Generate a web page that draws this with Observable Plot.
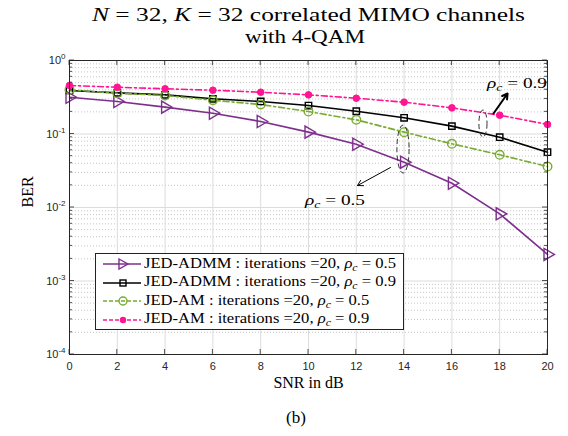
<!DOCTYPE html>
<html><head>
<meta charset="utf-8">
<script src="https://cdn.jsdelivr.net/npm/d3@7"></script>
<script src="https://cdn.jsdelivr.net/npm/@observablehq/plot@0.6"></script>
<style>
body{margin:0;background:#fff;}
#wrap{position:relative;width:568px;height:436px;overflow:hidden;font-family:"Liberation Serif","DejaVu Serif",serif;color:#000;}
.tl{position:absolute;left:0;white-space:nowrap;font-size:19px;line-height:22px;transform-origin:0 50%;}
#chart{position:absolute;left:0;top:56px;}
#cap{position:absolute;left:0;width:592px;top:408px;text-align:center;font-size:17px;}
#legend{position:absolute;left:95px;top:253px;width:307px;height:75px;border:1px solid #222;background:#fff;font-size:14px;}
.row{position:absolute;left:0;height:18px;display:flex;align-items:center;white-space:nowrap;}
.row svg{margin-left:7px;margin-right:3px;flex:none;}
.row span{display:inline-block;transform-origin:0 50%;}
.ann{position:absolute;font-size:14px;white-space:nowrap;}
sub{font-size:10px;font-style:italic;vertical-align:-3px;}
</style>
</head><body>
<div id="wrap">
  <div class="tl" id="t1"><i>N</i> = 32, <i>K</i> = 32 correlated MIMO channels</div>
  <div class="tl" id="t2">with 4-QAM</div>
  <div id="chart"></div>
  <div id="legend"></div>
  <div id="cap">(b)</div>
</div>
<script>
// ---- data ----
const snr = [0, 2, 4, 6, 8, 10, 12, 14, 16, 18, 20];
const admm05 = [0.317, 0.277, 0.232, 0.192, 0.148, 0.106, 0.0727, 0.0414, 0.0214, 0.0082, 0.0023];
const admm09 = [0.391, 0.363, 0.341, 0.301, 0.277, 0.244, 0.204, 0.166, 0.128, 0.0905, 0.0566];
const am05 = [0.399, 0.359, 0.334, 0.288, 0.252, 0.202, 0.156, 0.106, 0.0736, 0.0521, 0.0361];
const am09 = [0.457, 0.433, 0.412, 0.394, 0.370, 0.341, 0.307, 0.271, 0.227, 0.180, 0.135];
const seriesNames = ["JED-ADMM : iterations =20, ", "JED-ADMM : iterations =20, ", "JED-AM : iterations =20, ", "JED-AM : iterations =20, "];
const seriesRho = ["0.5", "0.9", "0.5", "0.9"];
const xTicks = [0, 2, 4, 6, 8, 10, 12, 14, 16, 18, 20];
const yMajor = [1e-4, 1e-3, 1e-2, 1e-1, 1];
const yTickLabels = ["10^-4", "10^-3", "10^-2", "10^-1", "10^0"];
// annotations (data coordinates)
const ellipses = [{x1: 13.72, x2: 14.23, y1: 0.029, y2: 0.1305}, {x1: 17.15, x2: 17.49, y1: 0.0896, y2: 0.209}];
const arrows = [{x1: 13.43, y1: 0.035, x2: 12.05, y2: 0.0199, w: 1}, {x1: 17.74, y1: 0.19, x2: 18.33, y2: 0.356, w: 2}];
const annLabels = [{x: 11.13, y: 0.0117, rho: "0.5"}, {x: 18.75, y: 0.457, rho: "0.9"}];

const colors = ["#7e2f8e", "#000000", "#77ac30", "#ff1493"];
const dashes = [null, null, "6,3,2,3", "6,3,2,3"];

const yMinor = [];
for (let e = -4; e < 0; e++) for (let m = 2; m <= 9; m++) yMinor.push(m * Math.pow(10, e));

const mk = (vals) => snr.map((s, i) => ({x: s, y: vals[i]}));
const D = [mk(admm05), mk(admm09), mk(am05), mk(am09)];

function ticksMark(index, scales, values, dim) {
  const g = d3.create("svg:g").attr("stroke", "#262626").attr("stroke-width", 0.8);
  const L = dim.marginLeft, R = dim.width - dim.marginRight, T = dim.marginTop, B = dim.height - dim.marginBottom;
  const sy = scales.y, sx = scales.x;
  for (const v of yMajor) { const y = sy(v); g.append("line").attr("x1", L).attr("x2", L + 5).attr("y1", y).attr("y2", y); g.append("line").attr("x1", R - 5).attr("x2", R).attr("y1", y).attr("y2", y); }
  for (const v of yMinor) { const y = sy(v); g.append("line").attr("x1", L).attr("x2", L + 3).attr("y1", y).attr("y2", y); g.append("line").attr("x1", R - 3).attr("x2", R).attr("y1", y).attr("y2", y); }
  for (const v of xTicks) { const x = sx(v); g.append("line").attr("x1", x).attr("x2", x).attr("y1", B).attr("y2", B - 5); g.append("line").attr("x1", x).attr("x2", x).attr("y1", T).attr("y2", T + 5); }
  return g.node();
}
function ellipseMark(index, scales) {
  const g = d3.create("svg:g").attr("fill", "none").attr("stroke", "#333").attr("stroke-width", 1).attr("stroke-dasharray", "5,3");
  for (const e of ellipses) {
    const a = scales.x(e.x1), b = scales.x(e.x2), c = scales.y(e.y2), d = scales.y(e.y1);
    g.append("ellipse").attr("cx", (a + b) / 2).attr("cy", (c + d) / 2).attr("rx", (b - a) / 2).attr("ry", (d - c) / 2);
  }
  return g.node();
}

const marks = [
  Plot.ruleY(yMinor, {stroke: "#b8b8b8", strokeDasharray: "1,2", strokeWidth: 0.8}),
  Plot.ruleY(yMajor.slice(1, -1), {stroke: "#dcdcdc", strokeWidth: 1}),
  Plot.ruleX(xTicks.slice(1, -1), {stroke: "#dcdcdc", strokeWidth: 1}),
];
D.forEach((d, i) => {
  marks.push(Plot.line(d, {x: "x", y: "y", stroke: colors[i], strokeWidth: 1.6, strokeDasharray: dashes[i]}));
});
marks.push(Plot.dot(D[0], {x: "x", y: "y", symbol: "triangle", rotate: 90, r: 4.5, stroke: colors[0], strokeWidth: 1.4, fill: "none"}));
marks.push(Plot.dot(D[1], {x: "x", y: "y", symbol: "square", r: 3.6, stroke: colors[1], strokeWidth: 1.4, fill: "none"}));
marks.push(Plot.dot(D[2], {x: "x", y: "y", symbol: "circle", r: 4.3, stroke: colors[2], strokeWidth: 1.4, fill: "none"}));
marks.push(Plot.dot(D[3], {x: "x", y: "y", symbol: "circle", r: 3.3, fill: colors[3], stroke: colors[3], strokeWidth: 1}));
marks.push(ellipseMark);
marks.push(Plot.arrow(arrows, {x1: "x1", y1: "y1", x2: "x2", y2: "y2", strokeWidth: "w", stroke: "#000", headLength: 9, bend: 0}));
marks.push(Plot.frame({stroke: "#262626", strokeWidth: 1}));
marks.push(ticksMark);
marks.push(Plot.text(["BER"], {frameAnchor: "left", dx: -42, rotate: -90, fontSize: 16, fontFamily: "Liberation Serif", fill: "#000"}));
marks.push(Plot.text(["SNR in dB"], {frameAnchor: "bottom", dy: 33, fontSize: 16, fontFamily: "Liberation Serif", fill: "#000"}));

const chart = Plot.plot({
  width: 568, height: 344,
  marginTop: 4, marginBottom: 46, marginLeft: 69, marginRight: 21,
  style: {fontFamily: "Liberation Sans, Arial, sans-serif", fontSize: "11px", color: "#262626", background: "#fff", overflow: "visible"},
  x: {domain: [0, 20], ticks: xTicks, tickSize: 0, tickPadding: 8, label: null, tickFormat: d => String(d)},
  y: {type: "log", domain: [1e-4, 1], ticks: yMajor, tickSize: 0, tickPadding: 4, label: null,
      tickFormat: d => yTickLabels[yMajor.findIndex(v => Math.abs(v - d) / v < 1e-6)]},
  marks
});
document.getElementById("chart").appendChild(chart);

// superscript y tick labels
chart.querySelectorAll('g[aria-label="y-axis tick label"] text').forEach(t => {
  const s = t.textContent; const p = s.split("^");
  if (p.length === 2) {
    t.textContent = "";
    const a = document.createElementNS("http://www.w3.org/2000/svg", "tspan"); a.textContent = p[0];
    const b = document.createElementNS("http://www.w3.org/2000/svg", "tspan"); b.textContent = p[1];
    b.setAttribute("dy", "-5"); b.setAttribute("font-size", "8");
    t.appendChild(a); t.appendChild(b);
  }
});

// title lines: fit to the reference widths, centred over the plot
function fit(el, cx, cy, w) {
  const r = el.getBoundingClientRect();
  const k = w / r.width;
  el.style.left = (cx - w / 2) + "px";
  el.style.top = (cy - r.height / 2) + "px";
  el.style.transform = `scaleX(${k})`;
}
fit(document.getElementById("t1"), 308, 15, 433);
fit(document.getElementById("t2"), 305, 37, 120);

// legend
const leg = document.getElementById("legend");
const symSvg = (i) => {
  let m = "";
  const c = colors[i];
  if (i === 0) m = `<path d="M16,2 L25,7 L16,12 Z" fill="none" stroke="${c}" stroke-width="1.4"/>`;
  if (i === 1) m = `<rect x="17" y="4" width="6" height="6" fill="none" stroke="${c}" stroke-width="1.4"/>`;
  if (i === 2) m = `<circle cx="20" cy="7" r="4" fill="none" stroke="${c}" stroke-width="1.4"/>`;
  if (i === 3) m = `<circle cx="20" cy="7" r="3.2" fill="${c}"/>`;
  const da = dashes[i] ? `stroke-dasharray="4,2"` : "";
  return `<svg width="38" height="14"><line x1="0" x2="38" y1="7" y2="7" stroke="${c}" stroke-width="1.6" ${da}/>${m}</svg>`;
};
let legK = 1;
seriesNames.forEach((n, i) => {
  const r = document.createElement("div");
  r.className = "row";
  r.style.top = (1 + i * 18.5) + "px";
  r.innerHTML = symSvg(i) + `<span>${n}<i>ρ</i><sub>c</sub> = ${seriesRho[i]}</span>`;
  leg.appendChild(r);
  const sp = r.querySelector("span");
  if (i === 0) legK = 252 / sp.getBoundingClientRect().width;
  sp.style.transform = `scaleX(${legK})`;
});

// annotation labels placed with the chart's scales
const sx = chart.scale("x"), sy = chart.scale("y");
const wrap = document.getElementById("wrap");
annLabels.forEach(a => {
  const d = document.createElement("div");
  d.className = "ann";
  d.innerHTML = `<i>ρ</i><sub>c</sub> = ${a.rho}`;
  wrap.appendChild(d);
  const r = d.getBoundingClientRect();
  const k = 60 / r.width;
  d.style.left = (sx.apply(a.x) - 30) + "px";
  d.style.top = (56 + sy.apply(a.y) - r.height / 2) + "px";
  d.style.transformOrigin = "0 50%";
  d.style.transform = `scaleX(${k})`;
});
</script>
</body></html>
